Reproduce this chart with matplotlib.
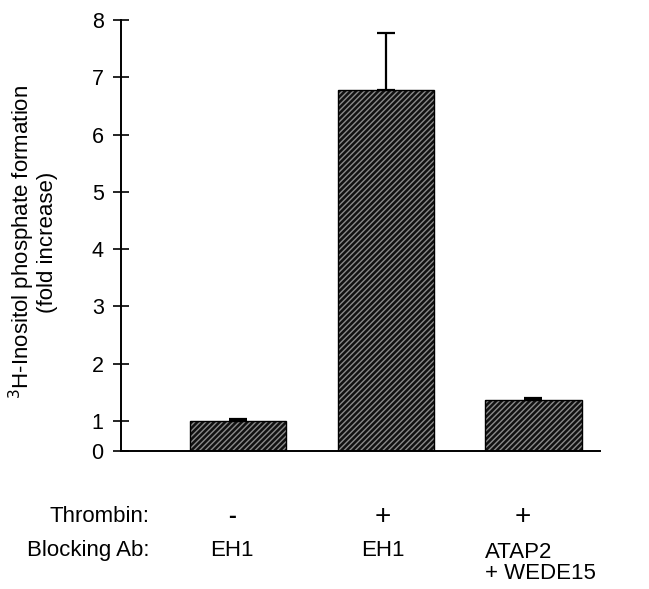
import numpy as np
import matplotlib
matplotlib.use("Agg")
import matplotlib.pyplot as plt

plt.rcParams['font.family'] = ['Liberation Sans', 'DejaVu Sans']

# data
thrombin = ["-", "+", "+"]
blocking = ["EH1", "EH1", "ATAP2\n+ WEDE15"]
fold = [1.0, 6.78, 1.37]
err_up = [0.03, 1.0, 0.03]

# axis is compressed between 0 and 1 in the original figure
k = 0.524


def fwd(y):
    y = np.asarray(y, dtype=float)
    return np.where(y < 1, y * k, k + (y - 1))


def inv(u):
    u = np.asarray(u, dtype=float)
    return np.where(u < k, u / k, u - k + 1)


fig = plt.figure(figsize=(6.49, 5.89), dpi=100)
ax = fig.add_axes([0.1864, 0.2343, 0.9245 - 0.1864, 0.966 - 0.2343])
ax.set_yscale('function', functions=(fwd, inv))

x = np.arange(len(fold))
w = 0.65
# hatched fill, then black outline
ax.bar(x, fold, width=w, color='#111111', edgecolor='#8a8a8a', hatch='//////',
       linewidth=0, zorder=2)
ax.bar(x, fold, width=w, fill=False, edgecolor='black', linewidth=1.0, zorder=3)
ax.errorbar(x, fold, yerr=[np.zeros(len(fold)), err_up], fmt='none',
            ecolor='black', elinewidth=1.6, capsize=6.5, capthick=1.6, zorder=1)

ax.set_xlim(-0.79, 2.45)
ax.set_ylim(0, 8)
ax.set_yticks(range(0, 9))
ax.set_xticks([])
for s in ['top', 'right']:
    ax.spines[s].set_visible(False)
ax.spines['left'].set_linewidth(1.4)
ax.spines['bottom'].set_linewidth(1.4)
ax.tick_params(axis='y', direction='inout', length=11, width=1.2, pad=7,
               labelsize=15.5)

ax.set_ylabel("$^{3}$H-Inositol phosphate formation\n(fold increase)",
              fontsize=16, linespacing=1.0)
ax.yaxis.set_label_coords(-0.132, 0.485)

tr = ax.get_xaxis_transform()
ax.text(0.06, -0.153, "Thrombin:", transform=ax.transAxes, ha='right',
        va='center', fontsize=16)
ax.text(0.06, -0.232, "Blocking Ab:", transform=ax.transAxes, ha='right',
        va='center', fontsize=16)
col_x = [-0.04, -0.02, -0.07]
for i, t in enumerate(thrombin):
    ax.text(x[i] + col_x[i], -0.153, t, transform=tr, ha='center',
            va='center', fontsize=20 if t == "+" else 17, fontweight='bold'
            if t == "-" else 'normal')
for i, b in enumerate(blocking):
    if "\n" in b:
        ax.text(x[i] - w / 2, -0.212, b, transform=tr, ha='left', va='top',
                fontsize=16, linespacing=1.0)
    else:
        ax.text(x[i] + col_x[i], -0.232, b, transform=tr, ha='center',
                va='center', fontsize=16)

fig.savefig("out.png", dpi=100)
